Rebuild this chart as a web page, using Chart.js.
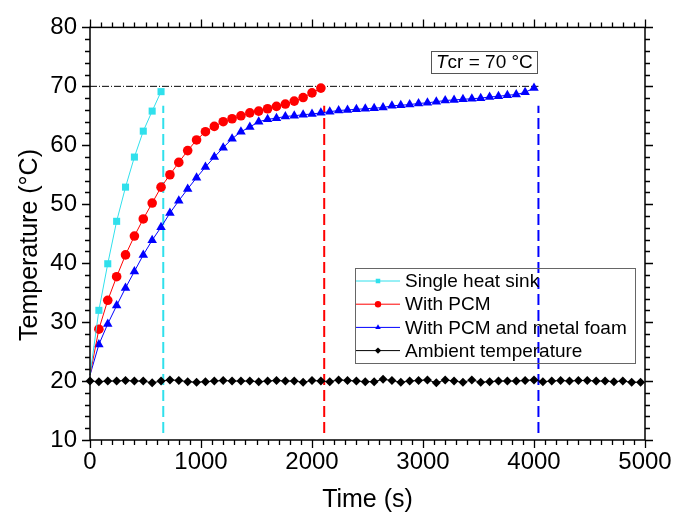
<!DOCTYPE html>
<html>
<head>
<meta charset="utf-8">
<script src="https://cdn.jsdelivr.net/npm/chart.js@4.4.1/dist/chart.umd.min.js"></script>
<style>
html, body { margin: 0; padding: 0; background: #fff; }
</style>
</head>
<body>
<canvas id="tempChart" width="675" height="515"></canvas>
<script>
// time stamps (s), one sample every 80 s
var timeSteps = [0, 80, 160, 240, 320, 400, 480, 560, 640, 720, 800, 880, 960, 1040, 1120, 1200,
    1280, 1360, 1440, 1520, 1600, 1680, 1760, 1840, 1920, 2000, 2080, 2160, 2240, 2320, 2400,
    2480, 2560, 2640, 2720, 2800, 2880, 2960, 3040, 3120, 3200, 3280, 3360, 3440, 3520, 3600,
    3680, 3760, 3840, 3920, 4000, 4080, 4160, 4240, 4320, 4400, 4480, 4560, 4640, 4720, 4800,
    4880, 4960];

var singleSink = [21, 32.0, 39.9, 47.1, 52.9, 58.0, 62.4, 65.8, 69.1];
var withPCM = [21, 28.8, 33.7, 37.7, 41.4, 44.6, 47.5, 50.2, 52.9, 55.0, 57.1, 59.1, 60.9, 62.3,
    63.2, 64.0, 64.5, 65.0, 65.5, 65.8, 66.2, 66.6, 67.0, 67.5, 68.1, 68.9, 69.7];
var withFoam = [21, 26.2, 29.7, 32.8, 35.8, 38.6, 41.4, 43.9, 46.1, 48.5, 50.6, 52.6, 54.5, 56.3,
    58.0, 59.6, 61.1, 62.3, 63.1, 64.0, 64.4, 64.6, 64.9, 65.0, 65.2, 65.3, 65.5, 65.7, 65.9,
    66.0, 66.1, 66.2, 66.3, 66.4, 66.7, 66.8, 66.9, 67.1, 67.2, 67.4, 67.6, 67.7, 67.8, 67.9,
    68.0, 68.2, 68.3, 68.5, 68.6, 69.0, 69.7];
var ambient = [20.0, 19.9, 20.0, 20.0, 20.1, 20.0, 20.0, 19.7, 20.0, 20.2, 20.1, 19.9, 19.8, 19.9,
    20.0, 20.1, 20.0, 20.0, 20.0, 19.9, 20.0, 20.1, 20.0, 20.0, 19.8, 20.1, 20.0, 19.9, 20.2,
    20.1, 20.0, 19.9, 19.9, 20.3, 20.1, 19.8, 20.0, 20.1, 20.2, 19.7, 20.2, 20.0, 19.8, 20.2,
    19.8, 19.9, 20.0, 20.0, 20.0, 20.1, 20.2, 19.9, 20.0, 20.1, 20.0, 20.1, 20.1, 20.0, 20.0,
    19.9, 20.0, 19.8, 19.8];

var seriesNames = ['Single heat sink', 'With PCM', 'With PCM and metal foam', 'Ambient temperature'];
var seriesColors = ['#30e0ec', '#ff0000', '#0000ff', '#000000'];
var seriesMarkers = ['rect', 'circle', 'triangle', 'rectRot'];
var markerSizes = [5, 4.8, 5.5, 4.5];

var cutoffTimes = [660, 2110, 4040];   // vertical dashed lines
var cutoffRange = [11.2, 66.7];
var criticalTemp = 70;

var fontFamily = '"Liberation Sans", Arial, sans-serif';

function toPoints(values) {
    return values.map(function (v, i) { return { x: timeSteps[i], y: v }; });
}

var datasets = [];
[singleSink, withPCM, withFoam, ambient].forEach(function (vals, i) {
    datasets.push({
        label: seriesNames[i],
        data: toPoints(vals),
        borderColor: seriesColors[i],
        backgroundColor: seriesColors[i],
        borderWidth: 1,
        pointStyle: seriesMarkers[i],
        // heating curves have no marker at t = 0
        pointRadius: function (c) { return (i < 3 && c.dataIndex === 0) ? 0 : markerSizes[i]; },
        pointBorderWidth: 0,
        tension: 0,
        clip: false,
        inLegend: true
    });
});

// dash-dot line at the critical temperature
datasets.push({
    data: [{ x: 0, y: criticalTemp }, { x: cutoffTimes[2], y: criticalTemp }],
    borderColor: '#000', borderWidth: 1, borderDash: [7, 2, 1, 2], pointRadius: 0
});

cutoffTimes.forEach(function (t, i) {
    datasets.push({
        data: [{ x: t, y: cutoffRange[0] }, { x: t, y: cutoffRange[1] }],
        borderColor: seriesColors[i], borderWidth: 2, borderDash: [11, 5], pointRadius: 0
    });
});

var framePlugin = {
    id: 'frame',
    afterDatasetsDraw: function (chart) {
        var ctx = chart.ctx, a = chart.chartArea;
        var xs = chart.scales.x, ys = chart.scales.y;
        ctx.save();

        // box and ticks on all four sides, pointing out
        ctx.strokeStyle = '#000';
        ctx.lineWidth = 1.5;
        ctx.strokeRect(a.left, a.top, a.right - a.left, a.bottom - a.top);
        ctx.lineWidth = 1.3;
        ctx.beginPath();
        for (var t = 0; t <= 5000; t += 100) {
            var px = Math.round(xs.getPixelForValue(t)) + 0.5;
            var len = t % 1000 === 0 ? 8 : 5;
            ctx.moveTo(px, a.bottom); ctx.lineTo(px, a.bottom + len);
            ctx.moveTo(px, a.top); ctx.lineTo(px, a.top - len);
        }
        for (var v = 10; v <= 80; v += 2) {
            var py = Math.round(ys.getPixelForValue(v)) + 0.5;
            var l2 = v % 10 === 0 ? 8 : 5;
            ctx.moveTo(a.left, py); ctx.lineTo(a.left - l2, py);
            ctx.moveTo(a.right, py); ctx.lineTo(a.right + l2, py);
        }
        ctx.stroke();

        // y title
        ctx.save();
        ctx.translate(30, 245);
        ctx.rotate(-Math.PI / 2);
        ctx.fillStyle = '#000';
        ctx.font = '25px ' + fontFamily;
        ctx.textAlign = 'center';
        ctx.textBaseline = 'middle';
        ctx.fillText('Temperature (\u00b0C)', 0, 0);
        ctx.restore();

        // legend
        var lx = 355, ly = 268;
        ctx.strokeStyle = '#666';
        ctx.lineWidth = 1;
        ctx.strokeRect(lx + 0.5, ly + 0.5, 280, 95);
        ctx.font = '19px ' + fontFamily;
        ctx.textBaseline = 'middle';
        ctx.textAlign = 'left';
        chart.data.datasets.filter(function (d) { return d.inLegend; }).forEach(function (ds, i) {
            var y = ly + 13 + i * 23.2;
            ctx.strokeStyle = ds.borderColor;
            ctx.lineWidth = 1;
            ctx.beginPath();
            ctx.moveTo(lx + 1, y); ctx.lineTo(lx + 45, y);
            ctx.stroke();
            ctx.fillStyle = ds.backgroundColor;
            Chart.helpers.drawPoint(ctx, { pointStyle: ds.pointStyle, radius: 3.2, borderWidth: 0, rotation: 0 }, lx + 23, y);
            ctx.fillStyle = '#000';
            ctx.fillText(ds.label, lx + 50, y + 1);
        });

        // Tcr label
        ctx.strokeStyle = '#555';
        ctx.strokeRect(431.5, 51.5, 106, 22);
        ctx.fillStyle = '#000';
        ctx.font = 'italic 19px ' + fontFamily;
        ctx.fillText('T', 436, 63);
        var tw = ctx.measureText('T').width;
        ctx.font = '19px ' + fontFamily;
        ctx.fillText('cr = ' + criticalTemp + ' \u00b0C', 436 + tw, 63);

        ctx.restore();
    }
};

new Chart(document.getElementById('tempChart').getContext('2d'), {
    type: 'line',
    data: { datasets: datasets },
    options: {
        responsive: false,
        animation: false,
        layout: { padding: { left: 8, right: 0, top: 13, bottom: 0 } },
        plugins: { legend: { display: false }, tooltip: { enabled: false } },
        scales: {
            x: {
                type: 'linear', min: 0, max: 5000,
                grid: { display: false, drawTicks: false },
                border: { display: false },
                ticks: { stepSize: 1000, color: '#000', maxRotation: 0, padding: 8,
                         font: { family: fontFamily, size: 24 },
                         callback: function (v) { return String(v); } },
                title: { display: true, text: 'Time (s)', color: '#000', padding: 0,
                         font: { family: fontFamily, size: 25 } },
                afterFit: function (s) { s.height = 75; s.paddingRight = 30; }
            },
            y: {
                type: 'linear', min: 10, max: 80,
                grid: { display: false, drawTicks: false },
                border: { display: false },
                ticks: { stepSize: 10, color: '#000', padding: 13,
                         font: { family: fontFamily, size: 24 } },
                afterFit: function (s) { s.width = 82; }
            }
        }
    },
    plugins: [framePlugin]
});
</script>
</body>
</html>
